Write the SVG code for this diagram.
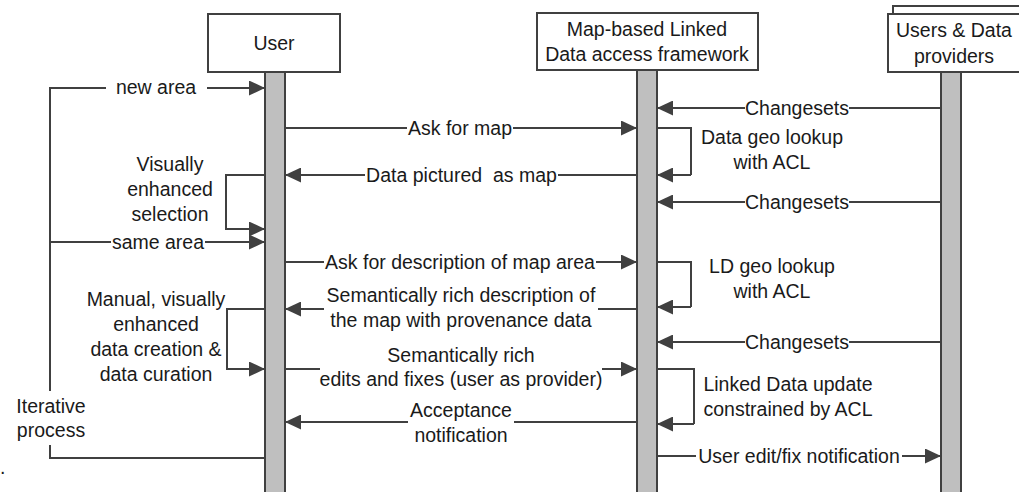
<svg xmlns="http://www.w3.org/2000/svg" width="1019" height="492" viewBox="0 0 1019 492">
<style>
.box{fill:#fff;stroke:#404040;stroke-width:2}
.bar{fill:#bfbfbf;stroke:#404040;stroke-width:2}
.ln{fill:none;stroke:#404040;stroke-width:2}
.ar{fill:none;stroke:#404040;stroke-width:2;marker-end:url(#ah)}
text{font-family:"Liberation Sans",Arial,sans-serif;font-size:19.5px;fill:#1a1a1a}
.c{text-anchor:middle}
</style>
<defs>
<marker id="ah" markerUnits="userSpaceOnUse" markerWidth="16" markerHeight="15" refX="16" refY="7.5" orient="auto">
<path d="M0,0 L16,7.5 L0,15 Z" fill="#404040"/>
</marker>
</defs>
<rect width="1019" height="492" fill="#fff"/>

<g id="node-user">
<rect class="bar" x="265" y="72" width="20" height="430"/>
<rect class="box" x="208" y="14" width="132" height="58"/>
<text class="c" x="274" y="50">User</text>
</g>

<g id="node-framework">
<rect class="bar" x="637" y="70" width="20" height="430"/>
<rect class="box" x="537" y="13" width="221" height="57"/>
<text class="c" x="647" y="36">Map-based Linked</text>
<text class="c" x="647" y="61">Data access framework</text>
</g>

<g id="node-providers">
<rect class="bar" x="941" y="72" width="20" height="430"/>
<rect class="box" x="893" y="6" width="140" height="58"/>
<rect class="box" x="888" y="14" width="140" height="58"/>
<text class="c" x="954" y="37">Users &amp; Data</text>
<text class="c" x="954" y="62.5">providers</text>
</g>

<g id="connectors">
<!-- iterative loop -->
<polyline class="ln" points="106,88 50,88 50,391"/>
<path class="ar" d="M207,88 H265"/>
<text class="c" x="156" y="94">new area</text>
<path class="ln" d="M50,445 V458 H265"/>
<text class="c" x="51" y="413">Iterative</text>
<text class="c" x="51" y="437">process</text>
<path class="ln" d="M50,242 H111"/>
<path class="ar" d="M205,242 H265"/>
<text class="c" x="158" y="249">same area</text>

<!-- user self loops -->
<path class="ar" d="M265,175 H226 V229 H265"/>
<text class="c" x="170" y="171">Visually</text>
<text class="c" x="170" y="196">enhanced</text>
<text class="c" x="170" y="221">selection</text>
<path class="ar" d="M265,309 H227 V369 H265"/>
<text class="c" x="156" y="306">Manual, visually</text>
<text class="c" x="156" y="331">enhanced</text>
<text class="c" x="156" y="356">data creation &amp;</text>
<text class="c" x="156" y="381">data curation</text>

<!-- user <-> framework -->
<path class="ln" d="M285,128 H407"/>
<path class="ar" d="M513,128 H637"/>
<text class="c" x="460" y="135">Ask for map</text>

<path class="ln" d="M637,175 H558"/>
<path class="ar" d="M365,175 H285"/>
<text class="c" x="461.5" y="182" xml:space="preserve">Data pictured  as map</text>

<path class="ln" d="M285,262 H324"/>
<path class="ar" d="M596,262 H637"/>
<text class="c" x="460" y="269">Ask for description of map area</text>

<path class="ln" d="M637,309 H598"/>
<path class="ar" d="M324,309 H285"/>
<text class="c" x="461" y="302">Semantically rich description of</text>
<text class="c" x="461" y="327">the map with provenance data</text>

<path class="ln" d="M285,369 H320"/>
<path class="ar" d="M602,369 H637"/>
<text class="c" x="461" y="362">Semantically rich</text>
<text class="c" x="461" y="386">edits and fixes (user as provider)</text>

<path class="ln" d="M637,422 H514"/>
<path class="ar" d="M408,422 H285"/>
<text class="c" x="461" y="417">Acceptance</text>
<text class="c" x="461" y="442">notification</text>

<!-- framework self loops -->
<path class="ln" d="M657,128 H691 V175"/>
<path class="ar" d="M691,175 H657"/>
<text class="c" x="772" y="144">Data geo lookup</text>
<text class="c" x="772" y="169">with ACL</text>

<path class="ln" d="M657,262 H691 V307"/>
<path class="ar" d="M691,307 H657"/>
<text class="c" x="772" y="273">LD geo lookup</text>
<text class="c" x="772" y="298">with ACL</text>

<path class="ln" d="M657,369 H694 V424"/>
<path class="ar" d="M694,424 H657"/>
<text class="c" x="788" y="391">Linked Data update</text>
<text class="c" x="788" y="416">constrained by ACL</text>

<!-- providers <-> framework -->
<path class="ln" d="M941,108 H849"/>
<path class="ar" d="M745,108 H657"/>
<text class="c" x="797" y="115">Changesets</text>

<path class="ln" d="M941,202 H849"/>
<path class="ar" d="M745,202 H657"/>
<text class="c" x="797" y="209">Changesets</text>

<path class="ln" d="M941,342 H849"/>
<path class="ar" d="M745,342 H657"/>
<text class="c" x="797" y="349">Changesets</text>

<path class="ln" d="M657,456 H696"/>
<path class="ar" d="M902,456 H941"/>
<text class="c" x="799" y="463">User edit/fix notification</text>
</g>

<text x="0" y="474">.</text>
</svg>
